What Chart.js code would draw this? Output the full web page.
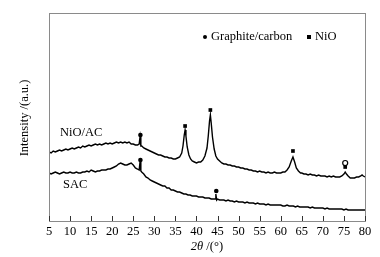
<!DOCTYPE html>
<html><head><meta charset="utf-8">
<script src="https://cdn.jsdelivr.net/npm/chart.js@4"></script>
<style>html,body{margin:0;padding:0;background:#fff}</style>
</head><body>
<canvas id="c" width="380" height="257"></canvas>
<script>
const xTicks = [5,10,15,20,25,30,35,40,45,50,55,60,65,70,75,80];

const nioX = [5,5.5,6,6.5,7,7.5,8,8.5,9,9.5,10,10.5,11,11.5,12,12.5,13,13.5,14,14.5,15,15.5,16,16.5,17,17.5,18,18.5,19,19.5,20,20.5,21,21.5,22,22.5,23,23.5,24,24.5,25,25.5,26,26.4,26.6,26.8,27,27.5,28,28.5,29,29.5,30,30.5,31,31.5,32,32.5,33,33.5,34,34.5,35,35.5,36,36.5,36.8,37.1,37.3,37.5,37.8,38.2,38.6,39,39.5,40,40.5,41,41.5,42,42.5,42.8,43.1,43.3,43.5,43.8,44.2,44.6,45,45.5,46,46.5,47,47.5,48,48.5,49,49.5,50,50.5,51,51.5,52,52.5,53,53.5,54,54.5,55,55.5,56,56.5,57,57.5,58,58.5,59,59.5,60,60.5,61,61.5,62,62.5,62.9,63.3,63.7,64.2,64.7,65,65.5,66,66.5,67,67.5,68,68.5,69,69.5,70,70.5,71,71.5,72,72.5,73,73.5,74,74.5,75,75.3,75.6,76,76.5,77,77.5,78,78.5,79,79.3,79.6,80];
const nioY = [69,68,70,69,70,71,70,71,72,71,72,73,72,73,74,73,75,74,75,76,75,76,77,76,77,76,77,78,77,78,77,78,79,78,79,78,79,78,79,77,77,76,76,77,84,75,75,73,72,71,70,69,68,67,66,66,65,64,64,63,63,62,62,63,64,68,75,86,91,85,74,66,62,60,59,58,59,59,61,65,73,85,100,106,98,84,72,65,62,60,58,57,57,56,56,55,55,54,54,53,53,52,52,51,51,50,50,49,50,49,49,48,49,48,48,49,48,48,48,49,49,51,54,60,64,59,53,50,48,48,47,47,46,47,46,46,45,46,45,45,45,44,45,44,45,44,44,44,45,47,49,47,45,43,43,43,44,44,45,46,45,44];

const sacX = [5,5.5,6,6.5,7,7.5,8,8.5,9,9.5,10,10.5,11,11.5,12,12.5,13,13.5,14,14.5,15,15.5,16,16.5,17,17.5,18,18.5,19,19.5,20,20.5,21,21.5,22,22.5,23,23.5,24,24.5,25,25.5,26,26.4,26.6,26.8,27,27.5,28,28.5,29,29.5,30,30.5,31,31.5,32,32.5,33,33.5,34,34.5,35,35.5,36,36.5,37,37.5,38,38.5,39,39.5,40,40.5,41,41.5,42,42.5,43,43.5,44,44.4,44.6,44.8,45,45.5,46,46.5,47,47.5,48,48.5,49,49.5,50,50.5,51,51.5,52,52.5,53,53.5,54,54.5,55,55.5,56,56.5,57,57.5,58,58.5,59,59.5,60,60.5,61,61.5,62,62.5,63,63.5,64,64.5,65,65.5,66,66.5,67,67.5,68,68.5,69,69.5,70,70.5,71,71.5,72,72.5,73,73.5,74,74.5,75,75.5,76,76.5,77,77.5,78,78.5,79,79.5,80];
const sacY = [48,47,48,49,48,47,48,49,48,48,49,48,48,49,48,48,49,49,50,49,51,50,49,50,50,51,51,51,52,52,53,54,55,57,58,57,56,56,57,58,56,53,52,51,59,50,49,47,44,43,41,40,39,38,37,36,35,35,33,33,31,31,30,29,29,28,27,27,26,26,25,25,25,24,24,24,23,23,23,22,22,22,27,21,22,21,21,21,20,21,20,20,19,20,19,19,19,18,19,18,18,18,17,18,17,17,17,16,17,16,16,16,16,16,16,15,15,16,15,15,15,14,15,14,14,14,14,14,13,14,13,13,13,13,13,12,13,12,12,12,12,12,12,12,11,12,11,11,11,11,11,11,11,11,11];

const circleX = [26.7, 26.7, 44.7];
const circleY = [86, 61, 30];
const openCircleX = [75.3];
const openCircleY = [58];
const squareX = [37.3, 43.3, 62.9, 75.3];
const squareY = [95, 111, 70, 54];

const seriesLabels = ['NiO/AC', 'SAC'];
const legendLabels = ['Graphite/carbon', 'NiO'];

const pts = (xs, ys) => xs.map((x, i) => ({x, y: ys[i]}));
const SERIF = '"Liberation Serif", "Times New Roman", serif';

const deco = {
  id: 'deco',
  afterDraw(chart) {
    const {ctx, chartArea: a, scales: {x}} = chart;
    ctx.save();
    ctx.strokeStyle = '#8a8a8a';
    ctx.lineWidth = 1;
    ctx.strokeRect(Math.round(a.left) + 0.5, Math.round(a.top) + 0.5, Math.round(a.right - a.left), Math.round(a.bottom - a.top));
    ctx.strokeStyle = '#333';
    ctx.beginPath();
    xTicks.forEach(t => {
      const px = Math.round(x.getPixelForValue(t)) + 0.5;
      ctx.moveTo(px, a.bottom);
      ctx.lineTo(px, a.bottom - 5);
    });
    ctx.stroke();
    ctx.fillStyle = '#000';
    ctx.font = '12.5px ' + SERIF;
    ctx.textBaseline = 'middle';
    ctx.textAlign = 'left';
    ctx.fillText(seriesLabels[0], 60, 133);
    ctx.fillText(seriesLabels[1], 63, 185);
    ctx.beginPath(); ctx.arc(205, 37, 2, 0, Math.PI * 2); ctx.fill();
    ctx.fillText(legendLabels[0], 211, 37);
    ctx.fillRect(307, 35, 4, 4);
    ctx.fillText(legendLabels[1], 315, 37);
    const t1 = '2θ', t2 = ' /(°)';
    ctx.font = 'italic 12.5px ' + SERIF;
    const w1 = ctx.measureText(t1).width;
    ctx.font = '12.5px ' + SERIF;
    const w2 = ctx.measureText(t2).width;
    const sx = (a.left + a.right) / 2 - (w1 + w2) / 2;
    ctx.font = 'italic 12.5px ' + SERIF;
    ctx.fillText(t1, sx, 247);
    ctx.font = '12.5px ' + SERIF;
    ctx.fillText(t2, sx + w1, 247);
    ctx.translate(25, 118);
    ctx.rotate(-Math.PI / 2);
    ctx.textAlign = 'center';
    ctx.fillText('Intensity /(a.u.)', 0, 0);
    ctx.restore();
  }
};

new Chart(document.getElementById('c'), {
  type: 'scatter',
  data: {
    datasets: [
      {label: seriesLabels[0], data: pts(nioX, nioY), showLine: true, borderColor: '#000', borderWidth: 1.4, pointRadius: 0, tension: 0},
      {label: seriesLabels[1], data: pts(sacX, sacY), showLine: true, borderColor: '#000', borderWidth: 1.4, pointRadius: 0, tension: 0},
      {label: 'c', data: pts(circleX, circleY), pointStyle: 'circle', pointRadius: 2.3, backgroundColor: '#000', borderColor: '#000', borderWidth: 0},
      {label: 'oc', data: pts(openCircleX, openCircleY), pointStyle: 'circle', pointRadius: 2.5, backgroundColor: '#fff', borderColor: '#000', borderWidth: 1.2},
      {label: 's', data: pts(squareX, squareY), pointStyle: 'rect', pointRadius: 2.6, backgroundColor: '#000', borderColor: '#000', borderWidth: 0}
    ]
  },
  options: {
    responsive: false,
    animation: false,
    devicePixelRatio: 1,
    layout: {padding: {left: 49, right: 15, top: 13, bottom: 0}},
    plugins: {legend: {display: false}, tooltip: {enabled: false}},
    scales: {
      x: {
        type: 'linear', min: 5, max: 80,
        grid: {display: false, drawTicks: false},
        border: {display: false},
        afterBuildTicks: s => { s.ticks = xTicks.map(v => ({value: v})); },
        afterFit: s => { s.height = 36; },
        ticks: {color: '#000', font: {family: SERIF, size: 12.5}, padding: 3, maxRotation: 0, autoSkip: false}
      },
      y: {display: false, min: 0, max: 208}
    }
  },
  plugins: [deco]
});
</script>
</body></html>
